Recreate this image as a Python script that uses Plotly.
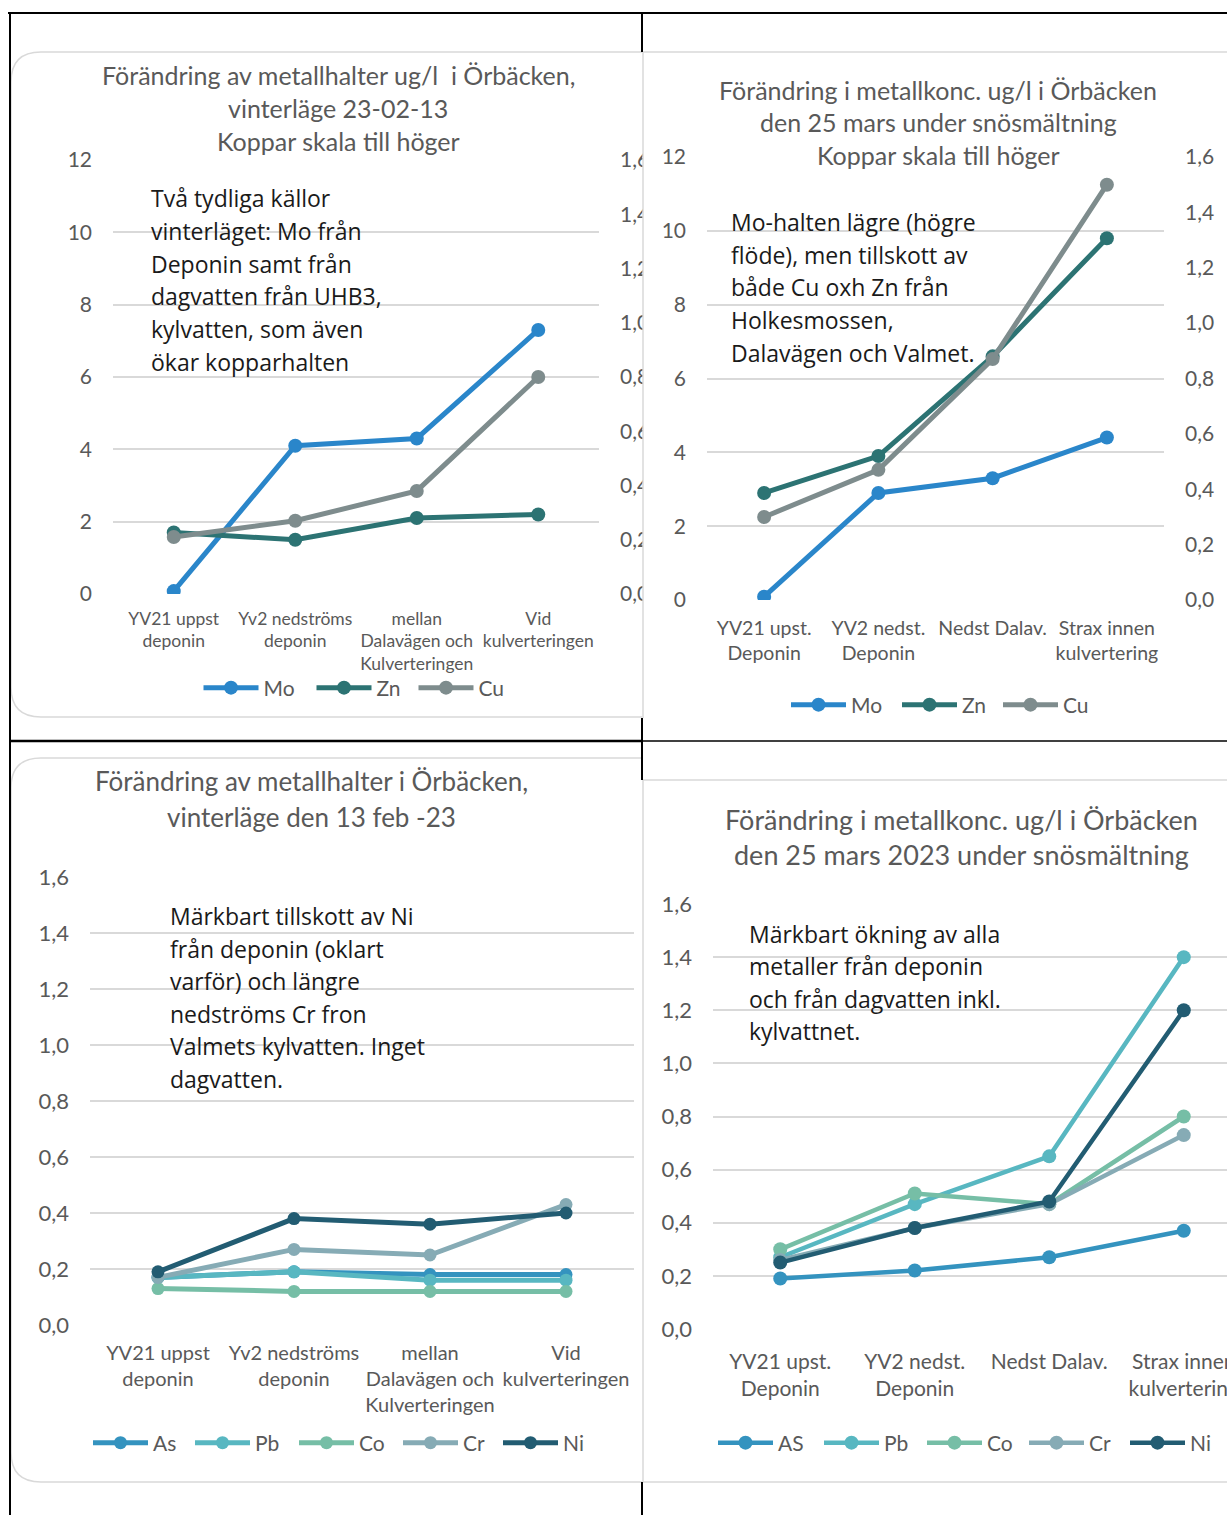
import plotly.graph_objects as go

W, H = 1227, 1515
OFF = 0  # page body margin is removed below, so figure pixels == screen pixels
def fx(px): return (px - OFF) / W
def fy(py): return 1 - (py - OFF) / H

# ---------------- data ----------------
sites_winter = ["YV21 uppst<br>deponin", "Yv2 nedströms<br>deponin",
                "mellan<br>Dalavägen och<br>Kulverteringen", "Vid<br>kulverteringen"]
sites_spring = ["YV21 upst.<br>Deponin", "YV2 nedst.<br>Deponin",
                "Nedst Dalav.", "Strax innen<br>kulvertering"]

# Chart 1: winter 23-02-13 (Cu on right axis)
mo_w = [0.08, 4.1, 4.3, 7.3]
zn_w = [1.7, 1.5, 2.1, 2.2]
cu_w = [0.21, 0.27, 0.38, 0.80]

# Chart 2: 25 March snowmelt (Cu on right axis)
mo_s = [0.09, 2.9, 3.3, 4.4]
zn_s = [2.9, 3.9, 6.6, 9.8]
cu_s = [0.30, 0.47, 0.87, 1.50]

# Chart 3: winter 13 feb -23
as_w = [0.17, 0.19, 0.18, 0.18]
pb_w = [0.17, 0.19, 0.16, 0.16]
co_w = [0.13, 0.12, 0.12, 0.12]
cr_w = [0.17, 0.27, 0.25, 0.43]
ni_w = [0.19, 0.38, 0.36, 0.40]

# Chart 4: 25 March 2023 snowmelt
as_s = [0.19, 0.22, 0.27, 0.37]
pb_s = [0.27, 0.47, 0.65, 1.40]
co_s = [0.30, 0.51, 0.47, 0.80]
cr_s = [0.26, 0.38, 0.47, 0.73]
ni_s = [0.25, 0.38, 0.48, 1.20]

C_MO, C_ZN, C_CU = "#2A86CA", "#2C7373", "#7E8C8D"
C_AS, C_PB, C_CO, C_CR, C_NI = "#3493BF", "#58B7C1", "#76BEA6", "#86ABB5", "#225C72"

GRID = "#D9D9D9"
TXT = "#595959"
FONT = "Lato"
BODY = "Open Sans"

fig = go.Figure()

def add(name, x, y, color, xa, ya, leg, lwidth, msize=14, lw=5):
    fig.add_trace(go.Scatter(x=x, y=y, name=name, mode="lines+markers",
                             line=dict(color=color, width=lw),
                             marker=dict(color=color, size=msize),
                             xaxis=xa, yaxis=ya, legend=leg, legendwidth=lwidth,
                             hoverinfo="skip"))

add("Mo", sites_winter, mo_w, C_MO, "x", "y", "legend", 43)
add("Zn", sites_winter, zn_w, C_ZN, "x", "y", "legend", 32)
add("Cu", sites_winter, cu_w, C_CU, "x", "y2", "legend", 28)

add("Mo", sites_spring, mo_s, C_MO, "x2", "y3", "legend2", 41)
add("Zn", sites_spring, zn_s, C_ZN, "x2", "y3", "legend2", 31)
add("Cu", sites_spring, cu_s, C_CU, "x2", "y4", "legend2", 28)

for n, v, c, w in [("As", as_w, C_AS, 32), ("Pb", pb_w, C_PB, 34), ("Co", co_w, C_CO, 34),
                   ("Cr", cr_w, C_CR, 30), ("Ni", ni_w, C_NI, 22)]:
    add(n, sites_winter, v, c, "x3", "y5", "legend3", w, msize=13, lw=5)
for n, v, c, w in [("AS", as_s, C_AS, 36), ("Pb", pb_s, C_PB, 33), ("Co", co_s, C_CO, 32),
                   ("Cr", cr_s, C_CR, 31), ("Ni", ni_s, C_NI, 22)]:
    add(n, sites_spring, v, c, "x4", "y6", "legend4", w, msize=14, lw=4.5)

def xax(x0, x1, y_anchor, size, standoff, rng=(-0.5, 3.5)):
    return dict(domain=[fx(x0), min(1, fx(x1))], anchor=y_anchor, type="category",
                range=list(rng), showgrid=False, zeroline=False, showline=False,
                ticks="", tickfont=dict(family=FONT, size=size, color=TXT),
                ticklabelstandoff=standoff, fixedrange=True)

def yax(ytop, ybot, x_anchor, rng, dtick, fmt, size, grid=True, side="left",
        overlaying=None):
    d = dict(domain=[fy(ybot), fy(ytop)], anchor=x_anchor, range=list(rng),
             dtick=dtick, tick0=0, tickformat=fmt, showgrid=grid, gridcolor=GRID,
             gridwidth=2, zeroline=False, showline=False, ticks="", side=side,
             tickfont=dict(family=FONT, size=size, color=TXT),
             ticklabelstandoff=20, fixedrange=True)
    if overlaying:
        d["overlaying"] = overlaying
    return d

# chart 4 runs past the window edge: category spacing 134.5 px from x=713
x4_right = W + OFF
x4_range = (-0.5, -0.5 + (x4_right - 713) / 134.5)

fig.update_layout(
    xaxis=xax(113, 599, "y", 17.5, 12),
    yaxis=yax(160, 594, "x", (0, 12), 2, "d", 21),
    yaxis2=yax(160, 594, "x", (0, 1.6), 0.2, ".1f", 21, grid=False, side="right", overlaying="y"),
    xaxis2=xax(707, 1164, "y3", 19.5, 14),
    yaxis3=yax(157, 600, "x2", (0, 12), 2, "d", 21),
    yaxis4=yax(157, 600, "x2", (0, 1.6), 0.2, ".1f", 21, grid=False, side="right", overlaying="y3"),
    xaxis3=xax(90, 634, "y5", 20, 14),
    yaxis5=yax(877, 1325, "x3", (0, 1.6), 0.2, ".1f", 22),
    xaxis4=xax(713, x4_right, "y6", 21, 18, rng=x4_range),
    yaxis6=yax(904, 1329, "x4", (0, 1.6), 0.2, ".1f", 22),
)

def leg(cx, cy):
    return dict(orientation="h", x=fx(cx), y=fy(cy), xanchor="center", yanchor="middle",
                font=dict(family=FONT, size=21, color=TXT), bgcolor="rgba(0,0,0,0)",
                itemwidth=55, itemclick=False, itemdoubleclick=False)

fig.update_layout(legend=leg(355, 688), legend2=leg(941, 705),
                  legend3=leg(339, 1443), legend4=leg(965, 1443))

# ---------------- titles & text boxes ----------------
ann = []
def text(s, x, y, size, color=TXT, family=FONT, anchor="center"):
    ann.append(dict(text=s, x=fx(x), y=fy(y), xref="paper", yref="paper",
                    xanchor=anchor, yanchor="middle", showarrow=False,
                    font=dict(family=family, size=size, color=color)))

for s, y in [("Förändring av metallhalter ug/l  i Örbäcken,", 75),
             ("vinterläge 23-02-13", 108), ("Koppar skala till höger", 141)]:
    text(s, 338, y, 25)
for s, y in [("Förändring i metallkonc. ug/l i Örbäcken", 90),
             ("den 25 mars under snösmältning", 122), ("Koppar skala till höger", 155)]:
    text(s, 938, y, 25)
for s, y in [("Förändring av metallhalter i Örbäcken,", 781),
             ("vinterläge den 13 feb -23", 817)]:
    text(s, 311, y, 26)
for s, y in [("Förändring i metallkonc. ug/l i Örbäcken", 819),
             ("den 25 mars 2023 under snösmältning", 855)]:
    text(s, 962, y, 27)

box1 = ["Två tydliga källor", "vinterläget: Mo från", "Deponin samt från",
        "dagvatten från UHB3,", "kylvatten, som även", "ökar kopparhalten"]
for i, s in enumerate(box1):
    text(s, 149, 198 + i * 32.8, 23, "#1a1a1a", BODY, "left")
box2 = ["Mo-halten lägre (högre", "flöde), men tillskott av", "både Cu oxh Zn från",
        "Holkesmossen,", "Dalavägen och Valmet."]
for i, s in enumerate(box2):
    text(s, 729, 222 + i * 32.7, 23, "#1a1a1a", BODY, "left")
box3 = ["Märkbart tillskott av Ni", "från deponin (oklart", "varför) och längre",
        "nedströms Cr fron", "Valmets kylvatten. Inget", "dagvatten."]
for i, s in enumerate(box3):
    text(s, 168, 916 + i * 32.6, 23, "#1a1a1a", BODY, "left")
box4 = ["Märkbart ökning av alla", "metaller från deponin",
        "och från dagvatten inkl.", "kylvattnet."]
for i, s in enumerate(box4):
    text(s, 747, 934 + i * 32.3, 23, "#1a1a1a", BODY, "left")

# ---------------- frames ----------------
shapes = []
def P(x, y): return f"{fx(x):.5f},{fy(y):.5f}"

def rounded_left(x0, y0, y1, xr, r=30):
    return ("M" + P(xr, y0) + " L" + P(x0 + r, y0) + " Q" + P(x0, y0) + " " + P(x0, y0 + r) +
            " L" + P(x0, y1 - r) + " Q" + P(x0, y1) + " " + P(x0 + r, y1) + " L" + P(xr, y1))

for path in [rounded_left(11, 52, 717, 642), rounded_left(11, 758, 1482, 642)]:
    shapes.append(dict(type="path", path=path, xref="paper", yref="paper",
                       line=dict(color=GRID, width=1.5), layer="below"))

# white cover clipping chart 1's right-axis labels at the table cell edge
shapes.append(dict(type="rect", xref="paper", yref="paper", x0=fx(643), x1=fx(657),
                   y0=fy(620), y1=fy(140), fillcolor="white", line=dict(width=0), layer="above"))

def seg(x0, y0, x1, y1, color, w, layer="above"):
    shapes.append(dict(type="line", xref="paper", yref="paper", x0=fx(x0), y0=fy(y0),
                       x1=fx(x1), y1=fy(y1), line=dict(color=color, width=w), layer=layer))

R = W + OFF
# right-hand chart frames
seg(643, 52, R, 52, GRID, 1.5)
seg(643, 52, 643, 718, GRID, 1.5)
seg(643, 780, R, 780, GRID, 1.5)
seg(643, 780, 643, 1482, GRID, 1.5)
seg(643, 1482, R, 1482, GRID, 1.5)

# table borders
seg(8, 13, R, 13, "black", 2)
seg(10, 13, 10, H + OFF, "black", 2)
seg(642, 13, 642, 52, "black", 2)
seg(642, 718, 642, 780, "black", 2)
seg(642, 1482, 642, H + OFF, "black", 2)
seg(10, 741, 642, 741, "black", 2.5)
seg(642, 741, R, 741, "black", 1.5)

fig.update_layout(
    width=W, height=H, margin=dict(l=0, r=0, t=0, b=0, autoexpand=False),
    paper_bgcolor="white", plot_bgcolor="rgba(0,0,0,0)",
    separators=", ", showlegend=True, annotations=ann, shapes=shapes,
    template="none", hovermode=False,
)

fig.write_html(
    "out.html",
    config={"displayModeBar": False, "staticPlot": False},
    post_script="document.body.style.margin='0px';"
                "document.documentElement.style.overflow='hidden';",
)
